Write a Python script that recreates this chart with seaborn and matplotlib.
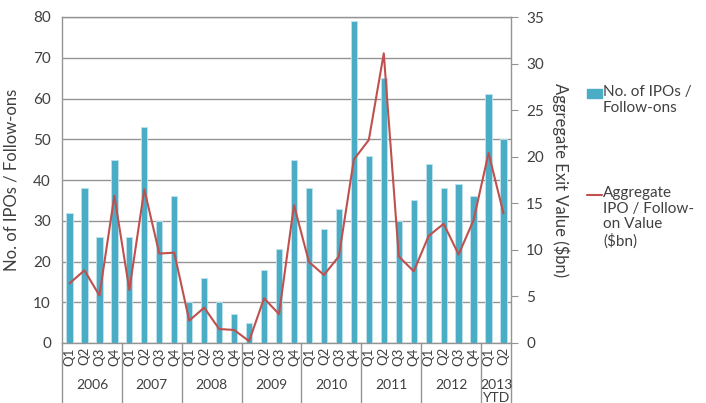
import numpy as np
import pandas as pd
import seaborn as sns
import matplotlib.pyplot as plt
from matplotlib.patches import Rectangle
from matplotlib.lines import Line2D
import matplotlib.transforms as mtransforms

years = ["2006", "2007", "2008", "2009", "2010", "2011", "2012", "2013\nYTD"]
quarters = ["Q1", "Q2", "Q3", "Q4"] * 7 + ["Q1", "Q2"]
counts = [32, 38, 26, 45, 26, 53, 30, 36, 10, 16, 10, 7, 5, 18, 23, 45,
          38, 28, 33, 79, 46, 65, 30, 35, 44, 38, 39, 36, 61, 50]
values = [6.4, 7.8, 5.1, 15.8, 5.7, 16.5, 9.6, 9.7, 2.4, 3.8, 1.5, 1.4,
          0.2, 4.8, 3.1, 14.8, 8.7, 7.3, 9.3, 19.7, 21.8, 31.1, 9.3, 7.7,
          11.5, 12.8, 9.5, 13.2, 20.4, 13.9]
group_sizes = [4, 4, 4, 4, 4, 4, 4, 2]

sns.set_style("white")
plt.rcParams['font.family'] = ['Lato', 'DejaVu Sans']
txt = "#404040"
grid_c = "#949494"
bar_c = "#4BACC6"
line_c = "#C0504D"

df = pd.DataFrame({"idx": range(len(counts)), "count": counts, "value": values})

fig = plt.figure(figsize=(7.06, 4.03), dpi=100)
ax = fig.add_axes([62 / 706, 60 / 403, 449 / 706, 326 / 403])

sns.barplot(data=df, x="idx", y="count", color=bar_c, width=0.42,
            saturation=1, edgecolor="#bfe3ee", linewidth=0.6, ax=ax, zorder=3)
ax.set_ylim(0, 80)
ax.set_yticks(range(0, 81, 10))
ax.set_xlim(-0.5, len(counts) - 0.5)
ax.yaxis.grid(True, color=grid_c, linewidth=1)
ax.set_axisbelow(True)
ax.set_xlabel("")
ax.set_ylabel("No. of IPOs / Follow-ons", fontsize=12, color=txt, labelpad=10)
ax.tick_params(axis="y", length=0, labelsize=11, labelcolor=txt, pad=8)
ax.set_xticks(range(len(counts)))
ax.set_xticklabels(quarters, rotation=90, fontsize=9.5, color=txt)
ax.tick_params(axis="x", length=0, pad=3)
for s in ["left", "top", "right", "bottom"]:
    ax.spines[s].set_color(grid_c)
    ax.spines[s].set_linewidth(1)

ax2 = ax.twinx()
sns.lineplot(data=df, x="idx", y="value", color=line_c, linewidth=1.5, ax=ax2, zorder=4)
ax2.set_ylim(0, 35)
ax2.set_yticks(range(0, 36, 5))
ax2.set_xlim(-0.5, len(counts) - 0.5)
ax2.set_ylabel("Aggregate Exit Value ($bn)", fontsize=12, color=txt, rotation=270,
               labelpad=18)
ax2.tick_params(axis="y", direction="out", length=5, color=grid_c, labelsize=11,
                labelcolor=txt, pad=6)
for s in ["left", "top", "right", "bottom"]:
    ax2.spines[s].set_visible(False)

# year groups below the axis
trans = mtransforms.blended_transform_factory(ax.transData, ax.transAxes)
edges = np.concatenate([[0], np.cumsum(group_sizes)]) - 0.5
for e in edges:
    ax.add_line(Line2D([e, e], [0, -0.19], transform=trans, color=grid_c,
                       linewidth=1, clip_on=False))
for i, y in enumerate(years):
    mid = (edges[i] + edges[i + 1]) / 2
    ax.text(mid, -0.11, y, transform=trans, ha="center", va="top",
            fontsize=10, color=txt, linespacing=1.1)

# legend
fig.add_artist(Rectangle((587 / 706, 1 - 98 / 403), 15 / 706, 9 / 403,
                         transform=fig.transFigure, color=bar_c))
fig.text(603 / 706, 1 - 85 / 403, "No. of IPOs /\nFollow-ons", fontsize=11,
         color=txt, va="top", ha="left", linespacing=1.15)
fig.add_artist(Line2D([587 / 706, 602 / 706], [1 - 195 / 403, 1 - 195 / 403],
                      transform=fig.transFigure, color=line_c, linewidth=1.5))
fig.text(603 / 706, 1 - 186 / 403, "Aggregate\nIPO / Follow-\non Value\n($bn)",
         fontsize=11, color=txt, va="top", ha="left", linespacing=1.15)

plt.savefig("out.png", dpi=100)
